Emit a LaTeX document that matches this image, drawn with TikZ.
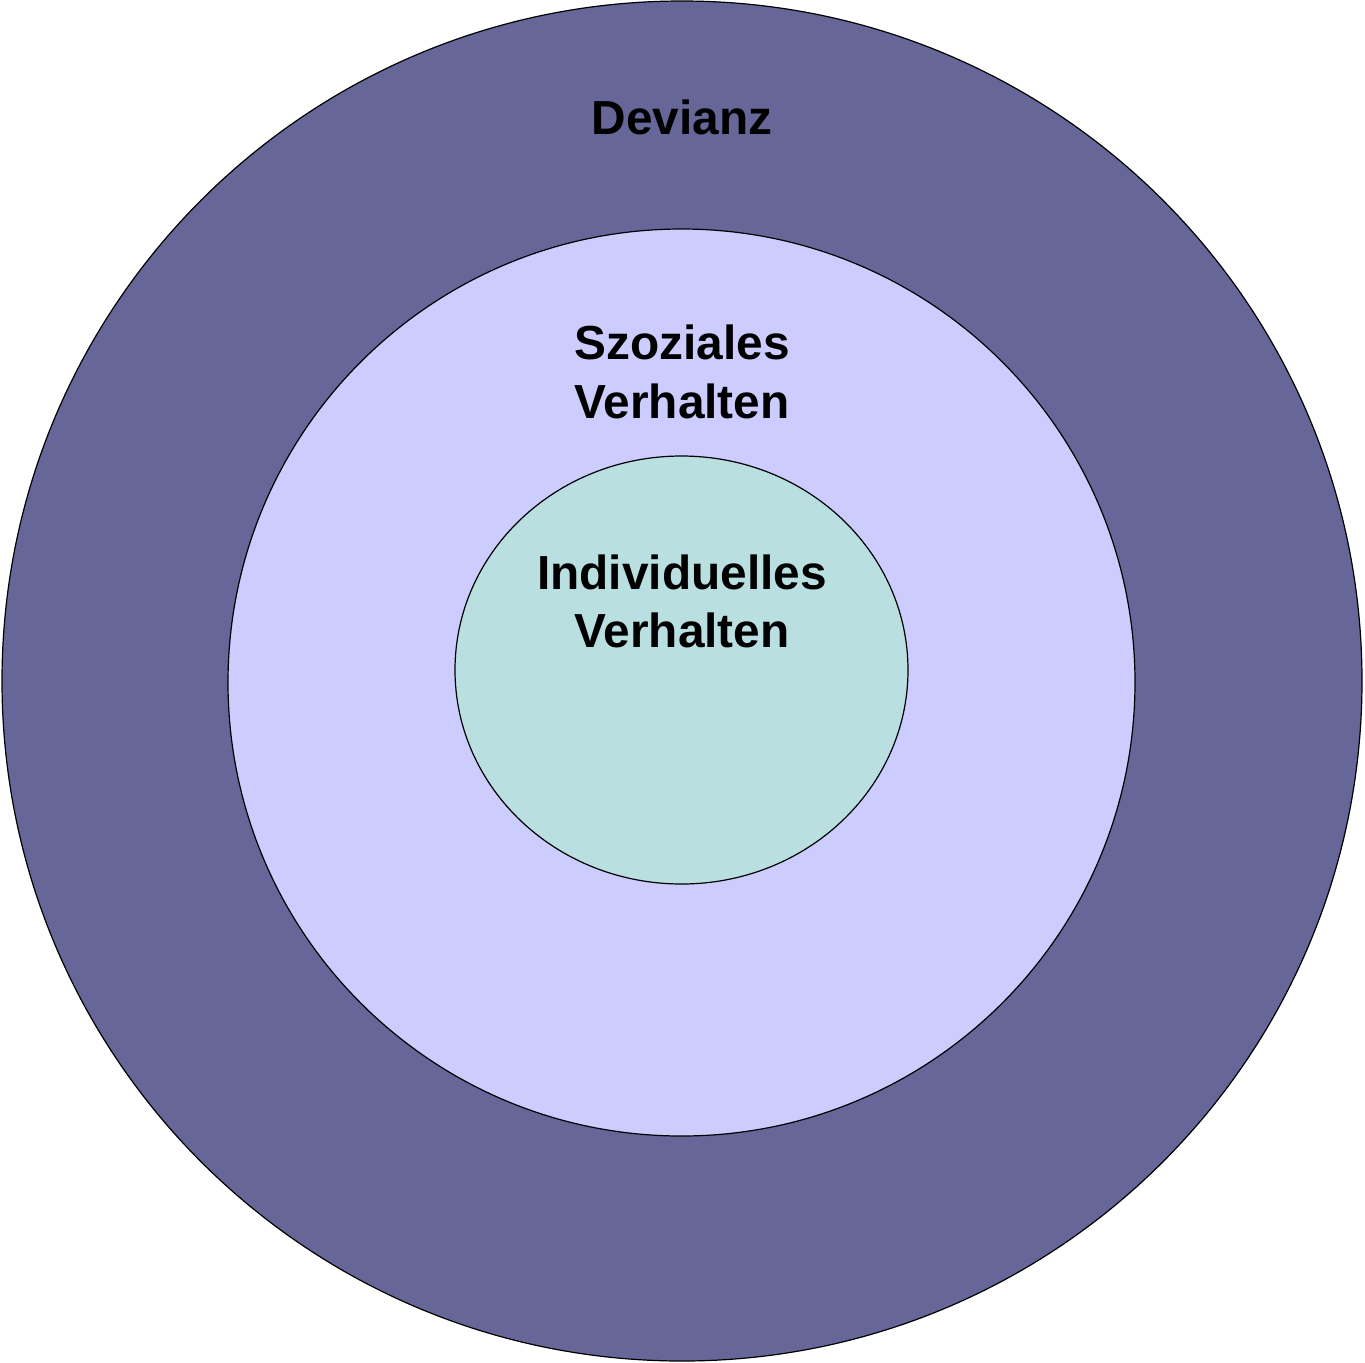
\documentclass[tikz,border=0pt]{standalone}
\usepackage{fontspec}
\setmainfont{Liberation Sans}
\definecolor{outerc}{HTML}{666699}
\definecolor{midc}{HTML}{CCCCFF}
\definecolor{innerc}{HTML}{B9DFE1}
\begin{document}
\begin{tikzpicture}[x=0.5pt,y=-0.5pt,
  ring/.style={draw=black,line width=0.6pt},
  lbl/.style={font=\bfseries\fontsize{23.9pt}{29pt}\selectfont,anchor=base,inner sep=0pt}]
\useasboundingbox (0,0) rectangle (1365,1362);
\path[ring,fill=outerc] (682,681) circle[radius=680];
\path[ring,fill=midc] (681.5,682.5) circle[radius=453.5];
\path[ring,fill=innerc] (681.5,670) ellipse[x radius=226.5,y radius=214];
\node[lbl] (dev) at (682,134) {Devianz};
\node[lbl] (soz1) at (682,359) {Szoziales};
\node[lbl] (soz2) at (682,418) {Verhalten};
\node[lbl] (ind1) at (682,589) {Individuelles};
\node[lbl] (ind2) at (682,647) {Verhalten};
\end{tikzpicture}
\end{document}
